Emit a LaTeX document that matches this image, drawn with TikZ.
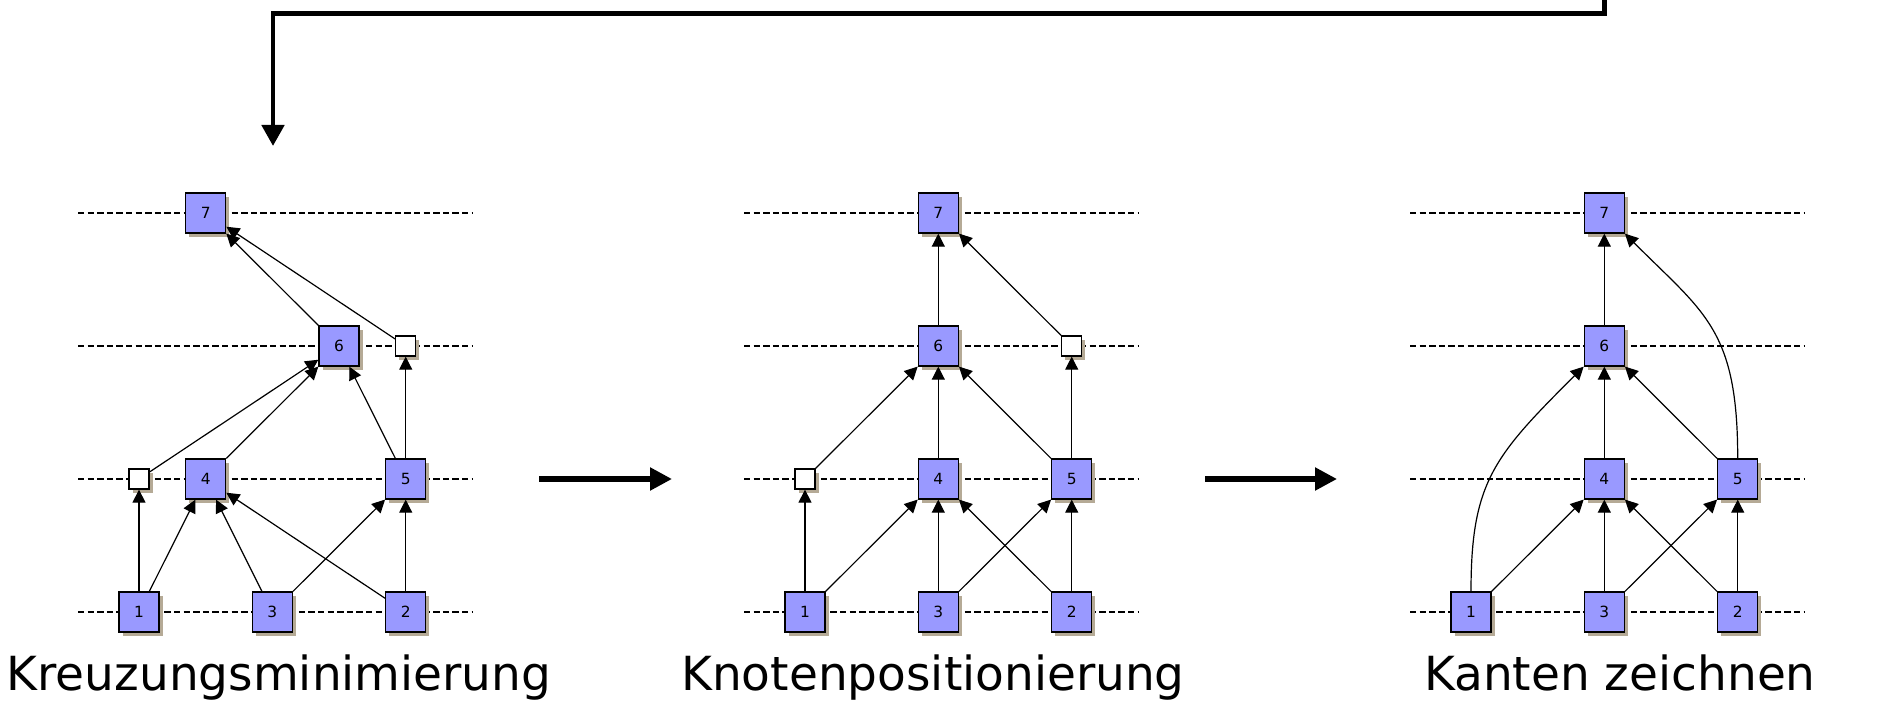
\documentclass[tikz,border=0pt]{standalone}
\usepackage{fontspec}
\setmainfont{DejaVu Sans}
\usetikzlibrary{arrows.meta,shadows}
\definecolor{nodefill}{RGB}{153,153,255}
\definecolor{shadowc}{RGB}{181,170,150}
\begin{document}
\begin{tikzpicture}[x=0.5pt,y=-0.5pt,
  vnode/.style={draw=black, line width=0.65pt, fill=nodefill, minimum size=20pt, inner sep=0pt,
    font=\fontsize{7.7pt}{9pt}\selectfont,
    drop shadow={shadow xshift=1.8pt, shadow yshift=-2pt, fill=shadowc, opacity=1}},
  dnode/.style={draw=black, line width=0.65pt, fill=white, minimum size=10pt, inner sep=0pt,
    drop shadow={shadow xshift=1.8pt, shadow yshift=-2pt, fill=shadowc, opacity=1}},
  conn/.style={line width=0.6pt, -{Triangle[length=6.5pt,width=6.5pt]}},
  lvl/.style={dash pattern=on 3.2pt off 1.6pt, line width=1.25pt},
  bigarrow/.style={line width=2.6pt, -{Triangle[length=11pt,width=11pt]}},
  caption/.style={font=\fontsize{23.5pt}{28pt}\selectfont, anchor=base, inner sep=0pt}
]
\useasboundingbox (0,0) rectangle (1879,705);

% layer lines
\foreach \b in {139,805,1471}{
  \foreach \r in {213,346,479,612}{
    \draw[lvl] (\b-61,\r) -- (\b+334,\r);
  }
}

% ---------- panel 1 ----------
\node[vnode] (a7) at (205.7,213) {7};
\node[vnode] (a6) at (339,346) {6};
\node[dnode] (ad2) at (405.7,346) {};
\node[dnode] (ad1) at (139,479) {};
\node[vnode] (a4) at (205.7,479) {4};
\node[vnode] (a5) at (405.7,479) {5};
\node[vnode] (a1) at (139,612) {1};
\node[vnode] (a3) at (272.3,612) {3};
\node[vnode] (a2) at (405.7,612) {2};
\draw[conn] (a1) -- (ad1);
\draw[conn] (a1) -- (a4);
\draw[conn] (a3) -- (a4);
\draw[conn] (a2) -- (a4);
\draw[conn] (a3) -- (a5);
\draw[conn] (a2) -- (a5);
\draw[conn] (ad1) -- (a6);
\draw[conn] (a4) -- (a6);
\draw[conn] (a5) -- (a6);
\draw[conn] (a5) -- (ad2);
\draw[conn] (ad2) -- (a7);
\draw[conn] (a6) -- (a7);

% ---------- panel 2 ----------
\node[vnode] (b7) at (938.3,213) {7};
\node[vnode] (b6) at (938.3,346) {6};
\node[dnode] (bd2) at (1071.7,346) {};
\node[dnode] (bd1) at (805,479) {};
\node[vnode] (b4) at (938.3,479) {4};
\node[vnode] (b5) at (1071.7,479) {5};
\node[vnode] (b1) at (805,612) {1};
\node[vnode] (b3) at (938.3,612) {3};
\node[vnode] (b2) at (1071.7,612) {2};
\draw[conn] (b1) -- (bd1);
\draw[conn] (b1) -- (b4);
\draw[conn] (b3) -- (b4);
\draw[conn] (b2) -- (b4);
\draw[conn] (b3) -- (b5);
\draw[conn] (b2) -- (b5);
\draw[conn] (bd1) -- (b6);
\draw[conn] (b4) -- (b6);
\draw[conn] (b5) -- (b6);
\draw[conn] (b5) -- (bd2);
\draw[conn] (bd2) -- (b7);
\draw[conn] (b6) -- (b7);

% ---------- panel 3 ----------
\node[vnode] (c7) at (1604.3,213) {7};
\node[vnode] (c6) at (1604.3,346) {6};
\node[vnode] (c4) at (1604.3,479) {4};
\node[vnode] (c5) at (1737.7,479) {5};
\node[vnode] (c1) at (1471,612) {1};
\node[vnode] (c3) at (1604.3,612) {3};
\node[vnode] (c2) at (1737.7,612) {2};
\draw[conn] (c1.north) .. controls (1471,482) and (1494,456) .. (c6.south west);
\draw[conn] (c1) -- (c4);
\draw[conn] (c3) -- (c4);
\draw[conn] (c2) -- (c4);
\draw[conn] (c3) -- (c5);
\draw[conn] (c2) -- (c5);
\draw[conn] (c4) -- (c6);
\draw[conn] (c5) -- (c6);
\draw[conn] (c6) -- (c7);
\draw[conn] (c5.north) .. controls (1737.7,329) and (1704,313) .. (c7.south east);

% ---------- step arrows ----------
\coordinate (s1a) at (539,479);
\coordinate (s1b) at (672,479);
\coordinate (s2a) at (1205,479);
\coordinate (s2b) at (1337,479);
\draw[bigarrow] (s1a) -- (s1b);
\draw[bigarrow] (s2a) -- (s2b);

% ---------- feedback loop ----------
\coordinate (loopstart) at (1604.5,-6);
\coordinate (looptarget) at (273,146);
\draw[line width=2.4pt, -{Triangle[length=10.5pt,width=11pt]}] (loopstart) -- ++(0,19.5) -| (looptarget);

% ---------- captions ----------
\node[caption] (capA) at (279,690) {Kreuzungsminimierung};
\node[caption] (capB) at (933,690) {Knotenpositionierung};
\node[caption] (capC) at (1620,690) {Kanten zeichnen};
\end{tikzpicture}
\end{document}
